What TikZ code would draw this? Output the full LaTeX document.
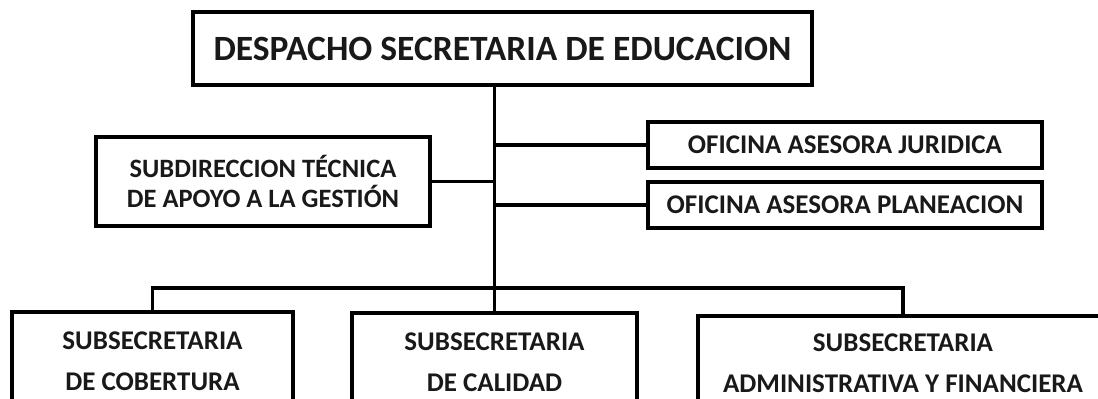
\documentclass[tikz,border=0pt]{standalone}
\usepackage{fontspec}
\setmainfont{Carlito}
\begin{document}
\begin{tikzpicture}[x=1pt,y=1pt,
  box/.style={draw=black,line width=3.6pt,inner sep=0pt,align=center,font=\bfseries,text=black!90},
  conn/.style={draw=black,line width=3.6pt,line join=miter},
  big/.style={font=\bfseries\fontsize{35.5}{42}\selectfont},
  mid/.style={font=\bfseries\fontsize{27}{30}\selectfont},
  sbd/.style={font=\bfseries\fontsize{26.5}{30}\selectfont},
  low/.style={font=\bfseries\fontsize{27}{41}\selectfont}]
\useasboundingbox (0,0) rectangle (1098,-399);
\clip (0,0) rectangle (1098,-399);
\fill[white] (0,0) rectangle (1098,-399);
\node[box,big,minimum width=619pt,minimum height=73pt] (top) at (502.5,-48.5) {DESPACHO SECRETARIA DE EDUCACION};
\node[box,sbd,minimum width=334pt,minimum height=89pt] (sub) at (263,-181.5) {SUBDIRECCION TÉCNICA\\DE APOYO A LA GESTIÓN};
\node[box,mid,minimum width=394pt,minimum height=46pt] (jur) at (845,-145) {OFICINA ASESORA JURIDICA};
\node[box,mid,minimum width=394pt,minimum height=46pt] (pla) at (845,-205) {OFICINA ASESORA PLANEACION};
\node[box,low,minimum width=281pt,minimum height=99pt] (cob) at (152.5,-361.5) {SUBSECRETARIA\\DE COBERTURA};
\node[box,low,minimum width=285pt,minimum height=99pt] (cal) at (494.5,-362.5) {SUBSECRETARIA\\DE CALIDAD};
\node[box,low,minimum width=410pt,minimum height=95pt] (adm) at (903,-363.5) {SUBSECRETARIA\\ADMINISTRATIVA Y FINANCIERA};
\draw[conn] (top.south -| cal.north) -- (cal.north);
\draw[conn] (sub.east) -- (sub.east -| cal.north);
\draw[conn] (jur.west) -- (jur.west -| cal.north);
\draw[conn] (pla.west) -- (pla.west -| cal.north);
\coordinate (bus) at (0,-288);
\draw[conn] (cob.north) -- (cob.north |- bus) -- (bus -| adm.north) -- (adm.north);
\end{tikzpicture}
\end{document}
